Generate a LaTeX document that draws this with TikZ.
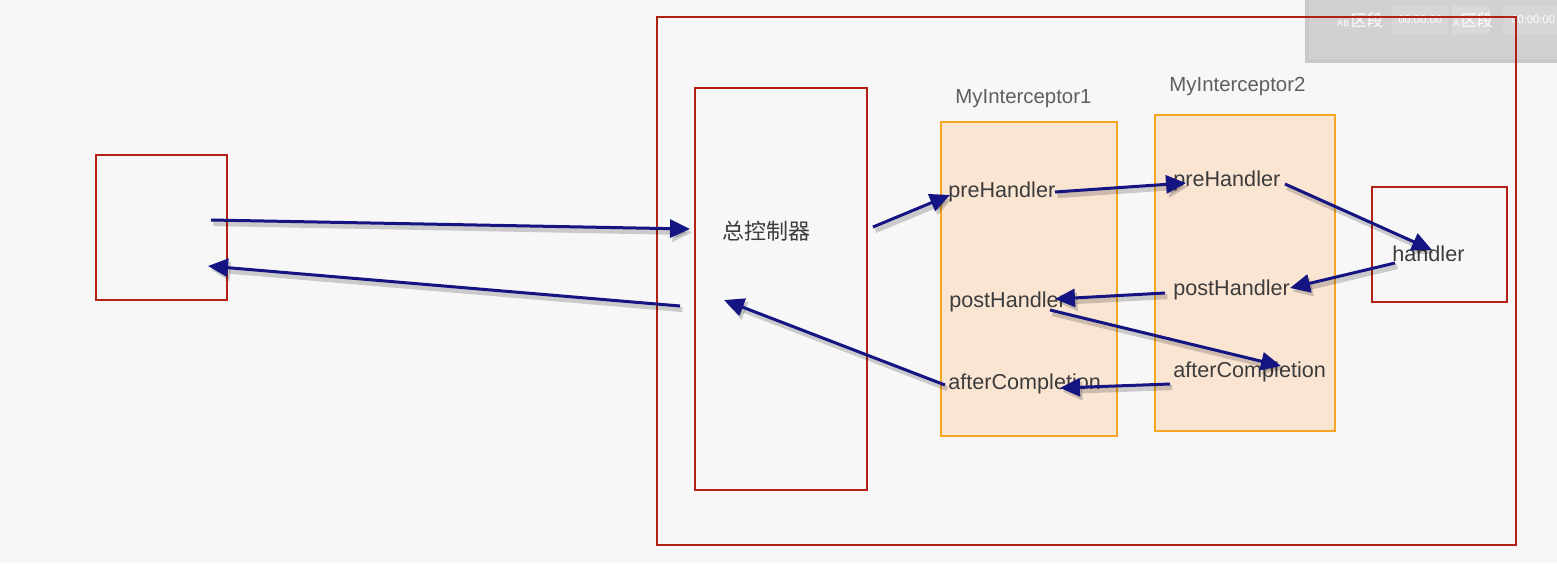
\documentclass[tikz,border=0pt]{standalone}
\usepackage{fontspec}
\setmainfont{Liberation Sans}
\newfontfamily\cjk{Noto Sans CJK SC}
\usetikzlibrary{arrows.meta}
\definecolor{bg}{RGB}{247,247,247}
\definecolor{boxred}{RGB}{178,34,20}
\definecolor{orng}{RGB}{245,166,35}
\definecolor{peach}{RGB}{250,229,211}
\definecolor{navy}{RGB}{20,20,130}
\definecolor{txt}{RGB}{60,60,60}
\definecolor{lbl}{RGB}{95,95,95}
\tikzset{
  redbox/.style={draw=boxred, line width=1.2pt},
  icbox/.style={draw=orng, fill=peach, line width=1.1pt},
  word/.style={anchor=west, inner sep=0pt, text=txt, font=\fontsize{10.8}{12}\selectfont},
  title/.style={anchor=west, inner sep=0pt, text=lbl, font=\fontsize{10.2}{12}\selectfont},
  flow/.style={draw=navy, line width=1.5pt, -{Triangle[length=10pt,width=9pt]},
    preaction={draw=black, opacity=0.18, line width=2.5pt, transform canvas={shift={(1.2pt,-1.8pt)}}}},
  tmtext/.style={inner sep=0pt, text=white, anchor=west},
}
\begin{document}
\begin{tikzpicture}[x=0.5pt,y=-0.5pt]
\fill[bg] (0,0) rectangle (1557,563);
\useasboundingbox (0,0) rectangle (1557,563);
% player overlay (behind the outer frame line)
\fill[gray!42] (1305,0) rectangle (1557,63);
\fill[gray!36] (1309,0) rectangle (1557,59);
\fill[white, opacity=0.12] (1392,6) rectangle (1448,34);
\fill[white, opacity=0.18] (1452,6) rectangle (1490,34);
\fill[white, opacity=0.12] (1503,6) rectangle (1557,34);
\node[tmtext, font=\fontsize{4.5}{5}\selectfont] (ab) at (1337,20) {AB\,{\cjk\fontsize{8}{9}\selectfont 区段}};
\node[tmtext, font=\fontsize{5.6}{6}\selectfont] (tm1) at (1398,20) {00:00:00};
\node[tmtext, font=\fontsize{4.5}{5}\selectfont] (ab2) at (1453,20) {A\,{\cjk\fontsize{8}{9}\selectfont 区段}};
\node[tmtext, font=\fontsize{5.6}{6}\selectfont] (tm2) at (1511,20) {00:00:00};
% boxes
\draw[redbox] (96,155) rectangle (227,300);
\draw[redbox] (657,17) rectangle (1516,545);
\draw[redbox] (695,88) rectangle (867,490);
\draw[icbox] (941,122) rectangle (1117,436);
\draw[icbox] (1155,115) rectangle (1335,431);
\draw[redbox] (1372,187) rectangle (1507,302);
% texts
\node[word, font=\cjk\fontsize{11}{12}\selectfont] (ctrl) at (722,231) {总控制器};
\node[title] (t1) at (955,99) {MyInterceptor1};
\node[title] (t2) at (1169,86) {MyInterceptor2};
\node[word] (pre1) at (948,192) {preHandler};
\node[word] (pre2) at (1173,181) {preHandler};
\node[word] (post1) at (949,302) {postHandler};
\node[word] (post2) at (1173,290) {postHandler};
\node[word] (ac1) at (948,384) {afterCompletion};
\node[word] (ac2) at (1173,372) {afterCompletion};
\node[word] (hd) at (1392,254) {handler};
% arrow endpoints
\coordinate (c1s) at (211,220); \coordinate (c1e) at (690,229);
\coordinate (c2s) at (680,306); \coordinate (c2e) at (208,266);
\coordinate (c3s) at (873,227); \coordinate (c3e) at (950,195);
\coordinate (c4s) at (1055,192); \coordinate (c4e) at (1186,183);
\coordinate (c5s) at (1285,184); \coordinate (c5e) at (1432,250);
\coordinate (c6s) at (1395,263); \coordinate (c6e) at (1290,288);
\coordinate (c7s) at (1165,293); \coordinate (c7e) at (1055,299);
\coordinate (c8s) at (1050,310); \coordinate (c8e) at (1281,366);
\coordinate (c9s) at (1170,384); \coordinate (c9e) at (1060,388);
\coordinate (c10s) at (945,385); \coordinate (c10e) at (724,300);
\foreach \i in {1,...,10} {\draw[flow] (c\i s) -- (c\i e);}
\end{tikzpicture}
\end{document}
